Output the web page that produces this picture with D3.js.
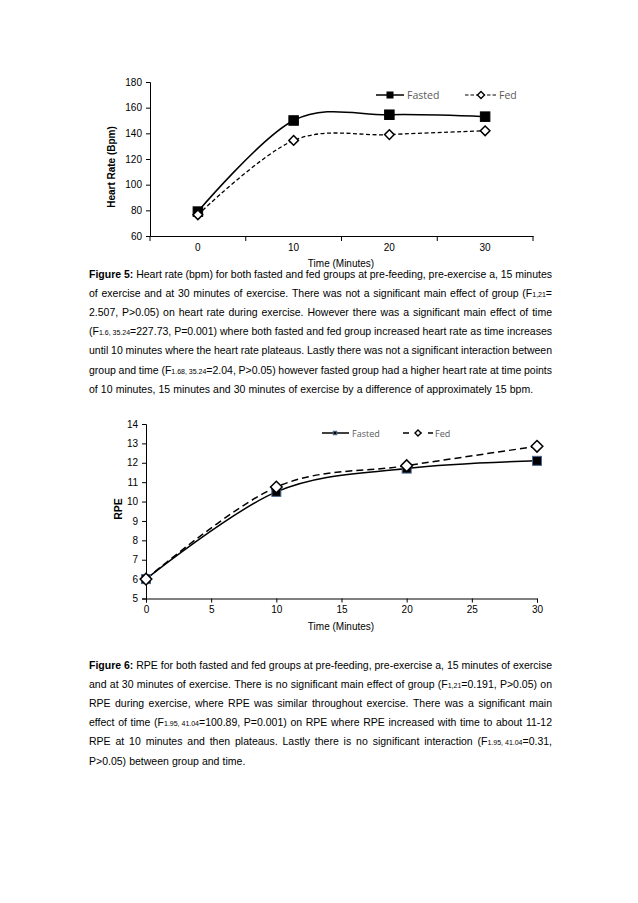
<!DOCTYPE html>
<html>
<head>
<meta charset="utf-8">
<script src="https://cdn.jsdelivr.net/npm/d3@7"></script>
<style>
  body { margin: 0; background: #fff; }
  svg text { font-family: "Liberation Sans", Arial, sans-serif; fill: #000; }
  .legend text { font-family: "Open Sans", sans-serif; fill: #595959; }
</style>
</head>
<body>
<svg id="page" width="638" height="903"></svg>
<script>
// Figure 5 - heart rate
const hrTimes = [0, 10, 20, 30];
const hrFasted = [79, 150, 154.5, 153];
const hrFed = [76.5, 134.5, 139, 142];
const hrTicks = [60, 80, 100, 120, 140, 160, 180];

// Figure 6 - RPE
const rpeTimes = [0, 10, 20, 30];
const rpeFasted = [6, 10.5, 11.7, 12.1];
const rpeFed = [6, 10.75, 11.85, 12.85];
const rpeYTicks = [5, 6, 7, 8, 9, 10, 11, 12, 13, 14];
const rpeXTicks = [0, 5, 10, 15, 20, 25, 30];

const cap5 = [
  '*Figure~5:* Heart rate (bpm) for both fasted and fed groups at pre-feeding, pre-exercise a, 15 minutes',
  'of exercise and at 30 minutes of exercise. There was not a significant main effect of group (F{1,21}=',
  '2.507, P>0.05) on heart rate during exercise. However there was a significant main effect of time',
  '(F{1.6,~35.24}=227.73, P=0.001) where both fasted and fed group increased heart rate as time increases',
  'until 10 minutes where the heart rate plateaus. Lastly there was not a significant interaction between',
  'group and time (F{1.68,~35.24}=2.04, P>0.05) however fasted group had a higher heart rate at time points',
  'of 10 minutes, 15 minutes and 30 minutes of exercise by a difference of approximately 15 bpm.'
];
const cap6 = [
  '*Figure~6:* RPE for both fasted and fed groups at pre-feeding, pre-exercise a, 15 minutes of exercise',
  'and at 30 minutes of exercise. There is no significant main effect of group (F{1,21}=0.191, P>0.05) on',
  'RPE during exercise, where RPE was similar throughout exercise. There was a significant main',
  'effect of time (F{1.95,~41.04}=100.89, P=0.001) on RPE where RPE increased with time to about 11-12',
  'RPE at 10 minutes and then plateaus. Lastly there is no significant interaction (F{1.95,~41.04}=0.31,',
  'P>0.05) between group and time.'
];

const svg = d3.select('#page');

function styleAxis(g) {
  g.selectAll('path.domain').attr('stroke', '#000').attr('stroke-width', 1);
  g.selectAll('.tick line').attr('stroke', '#000');
  g.selectAll('.tick text').attr('font-size', 10).attr('fill', '#000')
    .attr('font-family', '"Liberation Sans", Arial, sans-serif');
}

function square(g, x, y, s, fill, stroke) {
  g.append('rect').attr('x', x - s / 2).attr('y', y - s / 2)
    .attr('width', s).attr('height', s)
    .attr('fill', fill).attr('stroke', stroke).attr('stroke-width', 1);
}
function diamond(g, x, y, s, sw) {
  g.append('path')
    .attr('d', `M${x},${y - s}L${x + s},${y}L${x},${y + s}L${x - s},${y}Z`)
    .attr('fill', '#fff').attr('stroke', '#000').attr('stroke-width', sw);
}

const curve = d3.curveCatmullRom.alpha(0);

// ---------- Chart 1 ----------
{
  const x = d3.scaleBand().domain(hrTimes).range([150, 533]);
  const y = d3.scaleLinear().domain([60, 180]).range([236, 82]);
  const g = svg.append('g');

  const ax = g.append('g').attr('transform', 'translate(0,236)')
    .call(d3.axisBottom(x).tickSize(0).tickPadding(8));
  styleAxis(ax);
  // tick marks on category boundaries
  const bounds = hrTimes.map(d => x(d)).concat([x(hrTimes[hrTimes.length - 1]) + x.bandwidth()]);
  g.selectAll('.bnd').data(bounds).join('line')
    .attr('x1', d => d).attr('x2', d => d).attr('y1', 236).attr('y2', 241)
    .attr('stroke', '#000');

  const ay = g.append('g').attr('transform', 'translate(150,0)')
    .call(d3.axisLeft(y).tickValues(hrTicks).tickSize(4).tickPadding(4));
  styleAxis(ay);

  g.append('text').attr('x', 341).attr('y', 267).attr('text-anchor', 'middle')
    .attr('font-size', 10).text('Time (Minutes)');
  g.append('text').attr('transform', 'translate(115,167) rotate(-90)')
    .attr('text-anchor', 'middle').attr('font-size', 10).attr('font-weight', 'bold')
    .text('Heart Rate (Bpm)');

  const cx = d => x(d) + x.bandwidth() / 2;
  const lineF = d3.line().x((d, i) => cx(hrTimes[i])).y(d => y(d)).curve(curve);

  g.append('path').attr('d', lineF(hrFed)).attr('fill', 'none')
    .attr('stroke', '#000').attr('stroke-width', 1.3).attr('stroke-dasharray', '4,2.5');
  g.append('path').attr('d', lineF(hrFasted)).attr('fill', 'none')
    .attr('stroke', '#000').attr('stroke-width', 1.5);

  hrFasted.forEach((v, i) => square(g, cx(hrTimes[i]), y(v), 9.5, '#000', '#000'));
  hrFed.forEach((v, i) => diamond(g, cx(hrTimes[i]), y(v), 4.8, 1.5));

  // legend
  const lg = g.append('g').attr('class', 'legend');
  lg.append('line').attr('x1', 376).attr('x2', 404).attr('y1', 95).attr('y2', 95)
    .attr('stroke', '#000').attr('stroke-width', 1.5);
  square(lg, 390, 95, 6, '#000', '#000');
  lg.append('text').attr('x', 407).attr('y', 99).attr('font-size', 10.5).text('Fasted');
  lg.append('line').attr('x1', 465).attr('x2', 496).attr('y1', 95).attr('y2', 95)
    .attr('stroke', '#000').attr('stroke-width', 1.2).attr('stroke-dasharray', '3.5,2');
  diamond(lg, 481, 95, 3.5, 1.4);
  lg.append('text').attr('x', 499).attr('y', 99).attr('font-size', 10.5).text('Fed');
}

// ---------- Chart 2 ----------
{
  const x = d3.scaleLinear().domain([0, 30]).range([146, 537]);
  const y = d3.scaleLinear().domain([5, 14]).range([598.5, 424]);
  const g = svg.append('g');

  const ax = g.append('g').attr('transform', 'translate(0,598.5)')
    .call(d3.axisBottom(x).tickValues(rpeXTicks).tickSize(4).tickPadding(3));
  styleAxis(ax);
  const ay = g.append('g').attr('transform', 'translate(146,0)')
    .call(d3.axisLeft(y).tickValues(rpeYTicks).tickSize(4).tickPadding(4));
  styleAxis(ay);

  g.append('text').attr('x', 341).attr('y', 630).attr('text-anchor', 'middle')
    .attr('font-size', 10).text('Time (Minutes)');
  g.append('text').attr('transform', 'translate(122,509) rotate(-90)')
    .attr('text-anchor', 'middle').attr('font-size', 10.5).attr('font-weight', 'bold')
    .text('RPE');

  const lineF = d3.line().x((d, i) => x(rpeTimes[i])).y(d => y(d)).curve(curve);
  g.append('path').attr('d', lineF(rpeFasted)).attr('fill', 'none')
    .attr('stroke', '#000').attr('stroke-width', 1.5);
  g.append('path').attr('d', lineF(rpeFed)).attr('fill', 'none')
    .attr('stroke', '#000').attr('stroke-width', 1.5).attr('stroke-dasharray', '7,4');

  rpeFasted.forEach((v, i) => square(g, x(rpeTimes[i]), y(v), 9, '#000', '#4a6890'));
  rpeFed.forEach((v, i) => diamond(g, x(rpeTimes[i]), y(v), 5.8, 1.5));

  const lg = g.append('g').attr('class', 'legend');
  lg.append('line').attr('x1', 322).attr('x2', 349).attr('y1', 433).attr('y2', 433)
    .attr('stroke', '#000').attr('stroke-width', 1.5);
  square(lg, 335, 433, 3.5, '#000', '#4a6890');
  lg.append('text').attr('x', 352).attr('y', 436.5).attr('font-size', 9).text('Fasted');
  lg.append('line').attr('x1', 403).attr('x2', 433).attr('y1', 433).attr('y2', 433)
    .attr('stroke', '#000').attr('stroke-width', 1.5).attr('stroke-dasharray', '6,6.5');
  diamond(lg, 418, 433, 3, 1.4);
  lg.append('text').attr('x', 435).attr('y', 436.5).attr('font-size', 9).text('Fed');
}

// ---------- Captions (justified) ----------
function caption(lines, top, step) {
  const left = 89, right = 552, fs = 10.5;
  lines.forEach((ln, li) => {
    const yb = top + li * step;
    const words = ln.split(' ');
    const nodes = words.map(w => {
      const t = svg.append('text').attr('y', yb).attr('font-size', fs);
      const parts = w.split(/(\*[^*]*\*|\{[^}]*\})/).filter(p => p);
      parts.forEach(p => {
        if (p[0] === '*') t.append('tspan').attr('font-weight', 'bold').text(p.slice(1, -1).replace(/~/g, ' '));
        else if (p[0] === '{') t.append('tspan').attr('font-size', 7).text(p.slice(1, -1).replace(/~/g, ' '));
        else t.append('tspan').text(p.replace(/~/g, ' '));
      });
      return t;
    });
    const widths = nodes.map(n => n.node().getComputedTextLength());
    const total = d3.sum(widths);
    const last = li === lines.length - 1;
    const gap = last ? 3.1 : (right - left - total) / (nodes.length - 1);
    let xx = left;
    nodes.forEach((n, i) => { n.attr('x', xx); xx += widths[i] + gap; });
  });
}
caption(cap5, 277.5, 19.2);
caption(cap6, 668.5, 19.2);
</script>
</body>
</html>
